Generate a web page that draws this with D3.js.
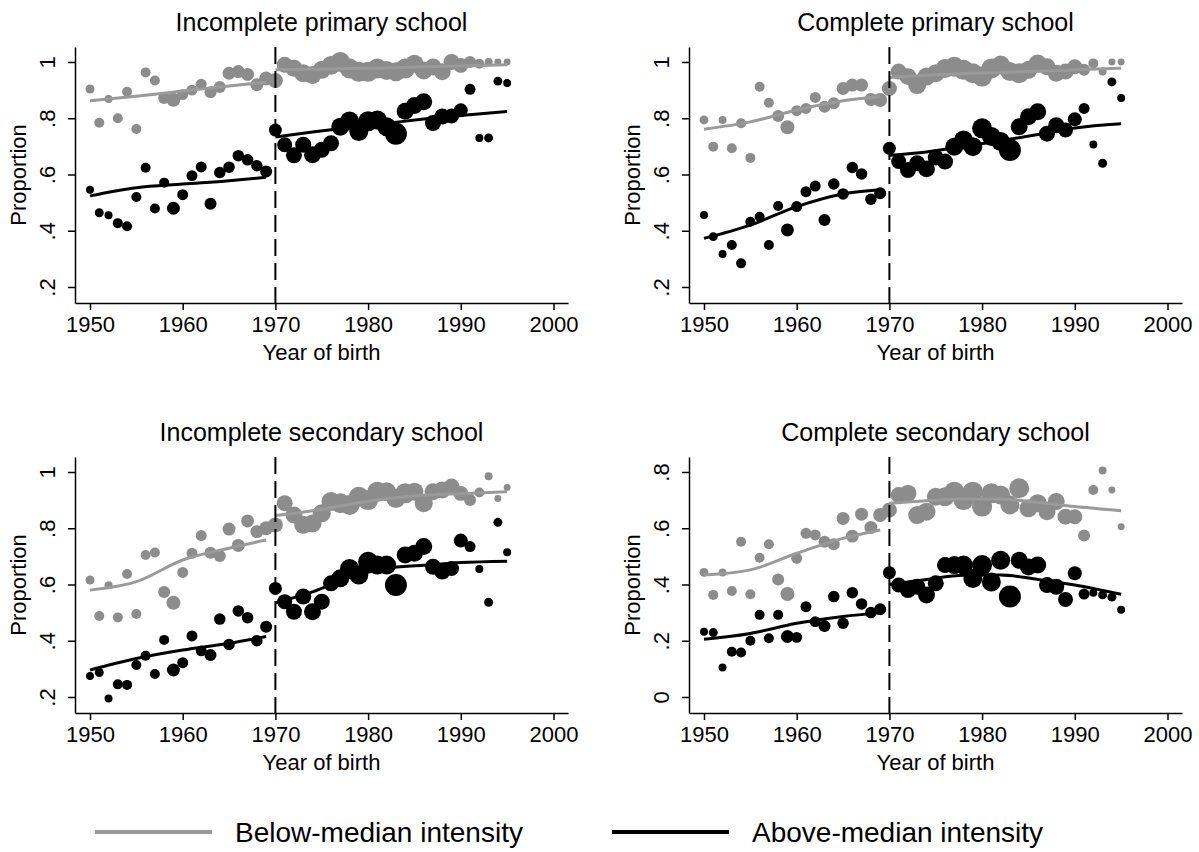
<!DOCTYPE html>
<html>
<head>
<meta charset="utf-8">
<script src="https://cdn.jsdelivr.net/npm/d3@7"></script>
<style>
  body { margin: 0; background: #fff; }
  text { font-family: "Liberation Sans", Arial, Helvetica, sans-serif; fill: #000; }
</style>
</head>
<body>
<div id="chart"></div>
<script>
// cohorts (year of birth)
var years = d3.range(1950, 1996);
var xTicks = [1950, 1960, 1970, 1980, 1990, 2000];
var cutoff = 1970;

// cell sizes (marker weights), same cohorts in every panel
var nBelow = [200, 250, 160, 250, 250, 250, 250, 250, 360, 490, 300, 300, 300, 360, 360, 420, 420, 420, 420, 490,
  560, 640, 720, 810, 810, 810, 900, 1000, 1000, 1000, 1000, 1000, 900, 900, 1000, 810, 810, 720, 720, 640,
  560, 360, 250, 160, 120, 120];
var nAbove = [160, 200, 160, 250, 250, 250, 250, 250, 250, 420, 300, 300, 300, 360, 330, 330, 330, 330, 330, 360,
  420, 560, 640, 640, 720, 640, 640, 810, 900, 900, 1000, 900, 900, 1210, 720, 720, 720, 640, 640, 560,
  490, 300, 160, 200, 200, 160];

// Incomplete primary school
var belowIncPrim = [0.904, 0.784, 0.868, 0.8, 0.894, 0.762, 0.963, 0.934, 0.872, 0.866, 0.884, 0.9, 0.921, 0.892, 0.911, 0.96, 0.966, 0.956, 0.919, 0.941,
  0.934, 0.99, 0.978, 0.96, 0.954, 0.972, 0.988, 1.0, 0.977, 0.965, 0.965, 0.977, 0.97, 0.965, 0.977, 0.994, 0.97, 0.982, 0.965, 1.0,
  0.988, 1.0, 0.994, 1.0, 1.0, 1.0];
var aboveIncPrim = [0.546, 0.464, 0.455, 0.427, 0.416, 0.52, 0.624, 0.479, 0.571, 0.48, 0.528, 0.596, 0.627, 0.496, 0.607, 0.626, 0.667, 0.652, 0.631, 0.611,
  0.758, 0.706, 0.668, 0.706, 0.67, 0.688, 0.711, 0.77, 0.79, 0.753, 0.789, 0.794, 0.77, 0.745, 0.825, 0.845, 0.859, 0.783, 0.806, 0.808,
  0.828, 0.903, 0.73, 0.73, 0.932, 0.925];

// Complete primary school
var belowCompPrim = [0.794, 0.699, 0.794, 0.693, 0.782, 0.659, 0.912, 0.855, 0.808, 0.768, 0.827, 0.835, 0.874, 0.841, 0.853, 0.906, 0.918, 0.918, 0.867, 0.865,
  0.906, 0.966, 0.948, 0.918, 0.948, 0.96, 0.977, 0.983, 0.972, 0.96, 0.948, 0.977, 0.989, 0.966, 0.96, 0.972, 0.995, 0.983, 0.96, 0.966,
  0.983, 0.972, 0.995, 0.966, 1.0, 1.0];
var aboveCompPrim = [0.456, 0.379, 0.317, 0.349, 0.284, 0.432, 0.45, 0.349, 0.488, 0.403, 0.486, 0.539, 0.559, 0.438, 0.566, 0.531, 0.625, 0.602, 0.512, 0.533,
  0.693, 0.646, 0.616, 0.64, 0.62, 0.66, 0.646, 0.699, 0.723, 0.699, 0.764, 0.735, 0.717, 0.687, 0.77, 0.805, 0.823, 0.745, 0.775, 0.758,
  0.796, 0.835, 0.707, 0.64, 0.929, 0.872];

// Incomplete secondary school
var belowIncSec = [0.616, 0.488, 0.597, 0.483, 0.637, 0.495, 0.705, 0.714, 0.573, 0.535, 0.643, 0.711, 0.774, 0.713, 0.701, 0.797, 0.739, 0.826, 0.788, 0.8,
  0.812, 0.889, 0.847, 0.812, 0.817, 0.853, 0.895, 0.889, 0.883, 0.912, 0.9, 0.93, 0.93, 0.906, 0.924, 0.93, 0.889, 0.93, 0.936, 0.948,
  0.924, 0.9, 0.927, 0.985, 0.906, 0.945];
var aboveIncSec = [0.275, 0.287, 0.195, 0.245, 0.243, 0.314, 0.347, 0.282, 0.403, 0.296, 0.322, 0.417, 0.364, 0.349, 0.477, 0.387, 0.506, 0.482, 0.4, 0.45,
  0.586, 0.539, 0.503, 0.557, 0.503, 0.539, 0.604, 0.622, 0.657, 0.634, 0.681, 0.669, 0.669, 0.598, 0.705, 0.711, 0.735, 0.663, 0.646, 0.657,
  0.756, 0.735, 0.655, 0.537, 0.821, 0.715];

// Complete secondary school
var belowCompSec = [0.443, 0.363, 0.443, 0.377, 0.552, 0.365, 0.495, 0.543, 0.418, 0.366, 0.493, 0.582, 0.576, 0.552, 0.543, 0.635, 0.572, 0.65, 0.603, 0.647,
  0.665, 0.718, 0.724, 0.647, 0.659, 0.712, 0.712, 0.73, 0.7, 0.73, 0.677, 0.724, 0.718, 0.683, 0.742, 0.671, 0.689, 0.659, 0.695, 0.641,
  0.641, 0.574, 0.736, 0.805, 0.736, 0.605];
var aboveCompSec = [0.232, 0.229, 0.105, 0.161, 0.158, 0.2, 0.292, 0.209, 0.292, 0.215, 0.212, 0.321, 0.268, 0.252, 0.357, 0.262, 0.371, 0.331, 0.3, 0.312,
  0.442, 0.398, 0.38, 0.392, 0.363, 0.404, 0.469, 0.469, 0.469, 0.421, 0.469, 0.409, 0.486, 0.357, 0.486, 0.462, 0.469, 0.398, 0.392, 0.347,
  0.44, 0.366, 0.371, 0.363, 0.355, 0.31];

// smoothed fits, before and after the 1970 cutoff
var preKnots = [1950, 1955, 1960, 1965, 1969];
var postKnots = [1970, 1974, 1978, 1982, 1986, 1990, 1995];

var fitBelowPreIncPrim = [0.862, 0.878, 0.897, 0.915, 0.928];
var fitBelowPostIncPrim = [0.972, 0.974, 0.977, 0.979, 0.983, 0.986, 0.99];
var fitAbovePreIncPrim = [0.524, 0.553, 0.566, 0.578, 0.59];
var fitAbovePostIncPrim = [0.733, 0.751, 0.767, 0.782, 0.797, 0.81, 0.824];

var fitBelowPreCompPrim = [0.761, 0.787, 0.829, 0.862, 0.876];
var fitBelowPostCompPrim = [0.945, 0.953, 0.959, 0.963, 0.967, 0.972, 0.978];
var fitAbovePreCompPrim = [0.373, 0.42, 0.486, 0.531, 0.546];
var fitAbovePostCompPrim = [0.668, 0.68, 0.7, 0.72, 0.742, 0.765, 0.78];

var fitBelowPreIncSec = [0.58, 0.61, 0.687, 0.729, 0.758];
var fitBelowPostIncSec = [0.845, 0.862, 0.885, 0.905, 0.917, 0.923, 0.93];
var fitAbovePreIncSec = [0.296, 0.337, 0.367, 0.391, 0.415];
var fitAbovePostIncSec = [0.535, 0.574, 0.625, 0.658, 0.668, 0.678, 0.683];

var fitBelowPreCompSec = [0.434, 0.452, 0.511, 0.564, 0.594];
var fitBelowPostCompSec = [0.689, 0.698, 0.704, 0.704, 0.692, 0.677, 0.662];
var fitAbovePreCompSec = [0.205, 0.226, 0.262, 0.286, 0.3];
var fitAbovePostCompSec = [0.4, 0.418, 0.433, 0.434, 0.418, 0.398, 0.365];

var yTicksHigh = [0.2, 0.4, 0.6, 0.8, 1];
var yTicksLow = [0, 0.2, 0.4, 0.6, 0.8];

var legendLabels = ["Below-median intensity", "Above-median intensity"];

//___________________________________________

var grey = "#8c8c8c";
var greyLine = "#9a9a9a";

var svg = d3.select("#chart")
  .append("svg")
  .attr("width", 1199)
  .attr("height", 852);

var panels = [
  { title: "Incomplete primary school", below: belowIncPrim, above: aboveIncPrim,
    fits: [fitBelowPreIncPrim, fitBelowPostIncPrim, fitAbovePreIncPrim, fitAbovePostIncPrim],
    ticks: yTicksHigh, dom: [0.1431, 1.0533], dx: 0, dy: 0 },
  { title: "Complete primary school", below: belowCompPrim, above: aboveCompPrim,
    fits: [fitBelowPreCompPrim, fitBelowPostCompPrim, fitAbovePreCompPrim, fitAbovePostCompPrim],
    ticks: yTicksHigh, dom: [0.1431, 1.0533], dx: 614, dy: 0 },
  { title: "Incomplete secondary school", below: belowIncSec, above: aboveIncSec,
    fits: [fitBelowPreIncSec, fitBelowPostIncSec, fitAbovePreIncSec, fitAbovePostIncSec],
    ticks: yTicksHigh, dom: [0.1431, 1.0533], dx: 0, dy: 410 },
  { title: "Complete secondary school", below: belowCompSec, above: aboveCompSec,
    fits: [fitBelowPreCompSec, fitBelowPostCompSec, fitAbovePreCompSec, fitAbovePostCompSec],
    ticks: yTicksLow, dom: [-0.0569, 0.8533], dx: 614, dy: 410 }
];

// plot area inside each panel
var plotLeft = 75, plotRight = 568, plotTop = 47, plotBottom = 303;

var x = d3.scaleLinear().domain([1948.382, 2001.564]).range([plotLeft, plotRight]);
var r = d3.scaleSqrt().domain([0, 1210]).range([0, 11]);

function fmt(d) {
  if (d === 0) return "0";
  if (d === 1) return "1";
  return d3.format(".1f")(d).replace("0.", ".");
}

panels.forEach(function (p) {
  var g = svg.append("g").attr("transform", `translate(${p.dx}, ${p.dy})`);
  var y = d3.scaleLinear().domain(p.dom).range([plotBottom, plotTop]);

  // title
  g.append("text")
    .attr("x", (plotLeft + plotRight) / 2)
    .attr("y", 31)
    .attr("text-anchor", "middle")
    .attr("font-size", "25px")
    .text(p.title);

  // markers
  var pts = [];
  years.forEach(function (yr, i) {
    pts.push({ year: yr, v: p.below[i], n: nBelow[i], c: grey });
  });
  years.forEach(function (yr, i) {
    pts.push({ year: yr, v: p.above[i], n: nAbove[i], c: "#000" });
  });
  g.selectAll("circle")
    .data(pts)
    .enter()
    .append("circle")
    .attr("cx", d => x(d.year))
    .attr("cy", d => y(d.v))
    .attr("r", d => r(d.n))
    .attr("fill", d => d.c);

  // fitted lines
  var line = d3.line()
    .x(d => x(d[0]))
    .y(d => y(d[1]))
    .curve(d3.curveMonotoneX);
  var segs = [
    { k: preKnots, v: p.fits[0], c: greyLine },
    { k: postKnots, v: p.fits[1], c: greyLine },
    { k: preKnots, v: p.fits[2], c: "#000" },
    { k: postKnots, v: p.fits[3], c: "#000" }
  ];
  segs.forEach(function (s) {
    g.append("path")
      .datum(s.k.map((k, i) => [k, s.v[i]]))
      .attr("d", line)
      .attr("fill", "none")
      .attr("stroke", s.c)
      .attr("stroke-width", 3);
  });

  // cutoff line
  g.append("line")
    .attr("x1", x(cutoff)).attr("x2", x(cutoff))
    .attr("y1", plotTop).attr("y2", plotBottom)
    .attr("stroke", "#000")
    .attr("stroke-width", 2)
    .attr("stroke-dasharray", "17,7");

  // axes
  var xAxis = g.append("g")
    .attr("transform", `translate(0, ${plotBottom})`)
    .call(d3.axisBottom(x).tickValues(xTicks).tickSize(7).tickSizeOuter(0).tickFormat(d3.format("d")));
  xAxis.selectAll("text").attr("font-size", "22px").attr("y", 13).attr("dy", "0.71em");

  var yAxis = g.append("g")
    .attr("transform", `translate(${plotLeft}, 0)`)
    .call(d3.axisLeft(y).tickValues(p.ticks).tickSize(7).tickSizeOuter(0).tickFormat(fmt));
  yAxis.selectAll("text")
    .attr("x", null).attr("dy", null)
    .attr("text-anchor", "middle")
    .attr("font-size", "22px")
    .attr("transform", "translate(-20, 0) rotate(-90)");

  g.selectAll(".domain, .tick line").attr("stroke", "#000").attr("stroke-width", 1.5);

  // axis titles
  g.append("text")
    .attr("x", (plotLeft + plotRight) / 2)
    .attr("y", 360)
    .attr("text-anchor", "middle")
    .attr("font-size", "22px")
    .text("Year of birth");
  g.append("text")
    .attr("transform", `translate(26, ${(plotTop + plotBottom) / 2}) rotate(-90)`)
    .attr("text-anchor", "middle")
    .attr("font-size", "22px")
    .text("Proportion");
});

// legend
var legend = svg.append("g");
var legendX = [95, 612];
var legendColors = [greyLine, "#000"];
legendLabels.forEach(function (lab, i) {
  legend.append("line")
    .attr("x1", legendX[i]).attr("x2", legendX[i] + 117)
    .attr("y1", 832).attr("y2", 832)
    .attr("stroke", legendColors[i])
    .attr("stroke-width", 4);
  legend.append("text")
    .attr("x", legendX[i] + 140)
    .attr("y", 842)
    .attr("font-size", "28px")
    .text(lab);
});
</script>
</body>
</html>
